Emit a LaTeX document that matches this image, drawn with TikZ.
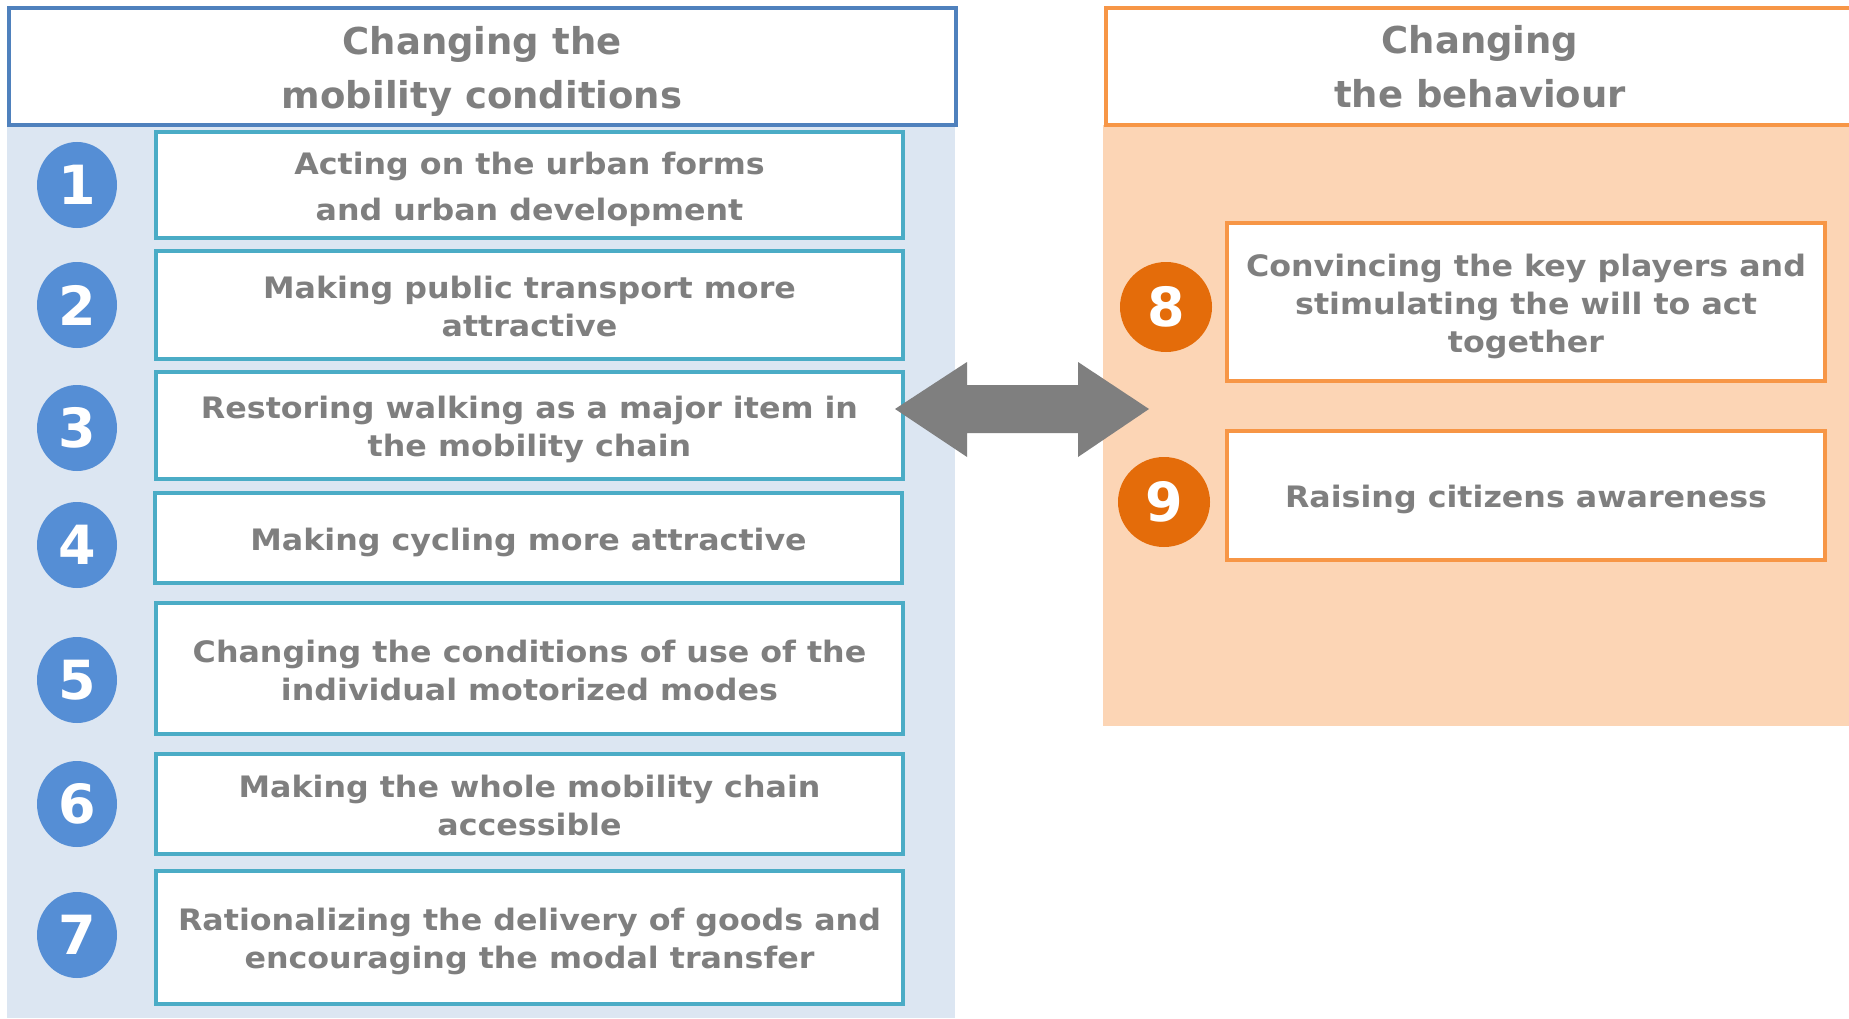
\documentclass[tikz,border=0pt]{standalone}
\usepackage{fontspec}
\setmainfont{DejaVu Sans}
\newfontfamily\itemfont[FakeStretch=1.075]{DejaVu Sans}
\usetikzlibrary{shapes.geometric}
\definecolor{txtgray}{HTML}{7F7F7F}
\definecolor{hdrblue}{HTML}{4F81BD}
\definecolor{bgblue}{HTML}{DCE6F2}
\definecolor{itemteal}{HTML}{4BACC6}
\definecolor{numblue}{HTML}{558ED5}
\definecolor{hdrorange}{HTML}{F79646}
\definecolor{bgorange}{HTML}{FCD5B5}
\definecolor{numorange}{HTML}{E46C0A}
\begin{document}
\begin{tikzpicture}[x=1pt,y=-1pt,
  hdrtext/.style={text=txtgray,font=\bfseries\fontsize{37}{54}\selectfont,align=center,inner sep=0pt},
  itembox/.style={draw=itemteal,line width=4pt,fill=white,inner sep=0pt,minimum width=747pt},
  behbox/.style={draw=hdrorange,line width=4pt,fill=white,inner sep=0pt,minimum width=598pt},
  itemtext/.style={text=txtgray,font=\itemfont\bfseries\fontsize{29.5}{38}\selectfont,
    align=center,inner sep=0pt,yshift=-4pt},
  numblob/.style={ellipse,fill=numblue,text=white,inner sep=0pt,
    font=\bfseries\fontsize{54}{54}\selectfont,minimum width=80pt,minimum height=86pt},
  numblobo/.style={ellipse,fill=numorange,text=white,inner sep=0pt,
    font=\bfseries\fontsize{54}{54}\selectfont,minimum width=92pt,minimum height=90pt}
]
\useasboundingbox (0,0) rectangle (1849,1019);
\fill[white] (0,0) rectangle (1849,1019);
% panel backgrounds
\fill[bgblue] (7,125) rectangle (955,1018);
\fill[bgorange] (1103,125) rectangle (1849,726);
% headers
\draw[hdrblue,line width=4pt,fill=white] (9,8) rectangle (956,125);
\node[hdrtext,yshift=-5pt] (hleft) at (482,66) {Changing the\\mobility conditions};
\fill[white] (1106,8) rectangle (1849,125);
\draw[hdrorange,line width=4pt] (1849,8) -- (1106,8) -- (1106,125) -- (1849,125);
\node[hdrtext,yshift=-0.5pt] (hright) at (1480,66) {Changing\\the behaviour};
% left items
\node[itembox,minimum height=106pt] (b1) at (529.5,185) {};
\node[itemtext,font=\itemfont\bfseries\fontsize{29.5}{46}\selectfont] (t1) at (b1.center) {Acting on the urban forms\\and urban development};
\node[itembox,minimum height=108pt] (b2) at (529.5,305) {};
\node[itemtext,yshift=2.4pt] (t2) at (b2.center) {Making public transport more\\attractive};
\node[itembox,minimum height=107pt] (b3) at (529.5,425.5) {};
\node[itemtext] (t3) at (b3.center) {Restoring walking as a major item in\\the mobility chain};
\node[itembox,minimum height=90pt] (b4) at (528.5,538) {};
\node[itemtext] (t4) at (b4.center) {Making cycling more attractive};
\node[itembox,minimum height=131pt] (b5) at (529.5,668.5) {};
\node[itemtext,yshift=2.4pt] (t5) at (b5.center) {Changing the conditions of use of the\\individual motorized modes};
\node[itembox,minimum height=100pt] (b6) at (529.5,804) {};
\node[itemtext,yshift=2.4pt] (t6) at (b6.center) {Making the whole mobility chain\\accessible};
\node[itembox,minimum height=133pt] (b7) at (529.5,937.5) {};
\node[itemtext] (t7) at (b7.center) {Rationalizing the delivery of goods and\\encouraging the modal transfer};
\node[numblob] (n1) at (77,185) {1};
\node[numblob] (n2) at (77,305) {2};
\node[numblob] (n3) at (77,428) {3};
\node[numblob] (n4) at (77,545) {4};
\node[numblob] (n5) at (77,680) {5};
\node[numblob] (n6) at (77,804) {6};
\node[numblob] (n7) at (77,935) {7};
% right items
\node[behbox,minimum height=158pt] (b8) at (1526,302) {};
\node[itemtext] (t8) at (b8.center) {Convincing the key players and\\stimulating the will to act\\together};
\node[behbox,minimum height=129pt] (b9) at (1526,495.5) {};
\node[itemtext] (t9) at (b9.center) {Raising citizens awareness};
\node[numblobo] (n8) at (1166,307) {8};
\node[numblobo] (n9) at (1164,502) {9};
% double arrow
\fill[txtgray] (895,409) -- (967,362) -- (967,385) -- (1078,385) -- (1078,362)
  -- (1149,409) -- (1078,457) -- (1078,433) -- (967,433) -- (967,457) -- cycle;
\end{tikzpicture}
\end{document}
